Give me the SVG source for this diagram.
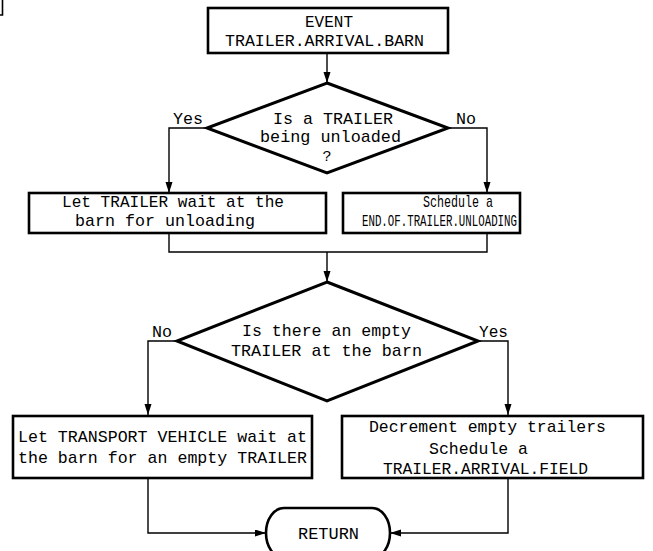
<svg xmlns="http://www.w3.org/2000/svg" width="653" height="551" viewBox="0 0 653 551">
  <style>
    .box { fill: #fff; stroke: #000; stroke-width: 2.6; }
    .dia { fill: #fff; stroke: #000; stroke-width: 3; stroke-linejoin: miter; }
    .line { fill: none; stroke: #000; stroke-width: 1.4; }
    text { font-family: "Liberation Mono", "Courier New", monospace; font-size: 17px; fill: #000; }
    .c { text-anchor: middle; }
  </style>
  <defs>
    <marker id="arrow" markerUnits="userSpaceOnUse" markerWidth="12" markerHeight="8" refX="11" refY="3.5" orient="auto">
      <path d="M0,0 L11,3.5 L0,7 Z" fill="#000"/>
    </marker>
  </defs>

  <rect width="653" height="551" fill="#fff"/>

  <!-- corner mark -->
  <path d="M0,15 H2.5 V0" fill="none" stroke="#000" stroke-width="1.6"/>

  <!-- connectors -->
  <g id="connectors">
    <path class="line" d="M327,53 V83" marker-end="url(#arrow)"/>
    <path class="line" d="M207,128 H169 V193" marker-end="url(#arrow)"/>
    <path class="line" d="M448,128 H487 V193" marker-end="url(#arrow)"/>
    <path class="line" d="M169,233 V252 H487 V233"/>
    <path class="line" d="M327,252 V282" marker-end="url(#arrow)"/>
    <path class="line" d="M177,341 H148 V415" marker-end="url(#arrow)"/>
    <path class="line" d="M478,341 H508 V415" marker-end="url(#arrow)"/>
    <path class="line" d="M148,479 V533 H266" marker-end="url(#arrow)"/>
    <path class="line" d="M508,479 V533 H390" marker-end="url(#arrow)"/>
  </g>

  <g id="event">
    <rect class="box" x="208" y="8" width="240" height="45"/>
    <text x="305" y="27" textLength="48" lengthAdjust="spacingAndGlyphs">EVENT</text>
    <text x="225" y="46" textLength="199" lengthAdjust="spacingAndGlyphs">TRAILER.ARRIVAL.BARN</text>
  </g>

  <g id="decision-unloading">
    <polygon class="dia" points="327,83 448,128 327,173 207,128"/>
    <text x="273" y="124" textLength="120" lengthAdjust="spacingAndGlyphs">Is a TRAILER</text>
    <text x="260" y="142" textLength="141" lengthAdjust="spacingAndGlyphs">being unloaded</text>
    <text class="c" x="327" y="161" style="font-size:15px">?</text>
    <text x="173" y="124" textLength="30" lengthAdjust="spacingAndGlyphs">Yes</text>
    <text x="456" y="124" textLength="20" lengthAdjust="spacingAndGlyphs">No</text>
  </g>

  <g id="trailer-wait">
    <rect class="box" x="29" y="193" width="297" height="40"/>
    <text x="62" y="207" textLength="222" lengthAdjust="spacingAndGlyphs">Let TRAILER wait at the</text>
    <text x="75" y="226" textLength="180" lengthAdjust="spacingAndGlyphs">barn for unloading</text>
  </g>

  <g id="schedule-unloading">
    <rect class="box" x="343" y="193" width="177" height="40"/>
    <text x="423" y="207" textLength="70" lengthAdjust="spacingAndGlyphs">Schedule a</text>
    <text x="362" y="226" textLength="155" lengthAdjust="spacingAndGlyphs">END.OF.TRAILER.UNLOADING</text>
  </g>

  <g id="decision-empty">
    <polygon class="dia" points="327,282 478,341 327,401 177,341"/>
    <text x="242" y="336" textLength="169" lengthAdjust="spacingAndGlyphs">Is there an empty</text>
    <text x="231" y="356" textLength="191" lengthAdjust="spacingAndGlyphs">TRAILER at the barn</text>
    <text x="152" y="337" textLength="20" lengthAdjust="spacingAndGlyphs">No</text>
    <text x="479" y="337" textLength="29" lengthAdjust="spacingAndGlyphs">Yes</text>
  </g>

  <g id="vehicle-wait">
    <rect class="box" x="13" y="416" width="299" height="62"/>
    <text x="18" y="442" textLength="289" lengthAdjust="spacingAndGlyphs">Let TRANSPORT VEHICLE wait at</text>
    <text x="18" y="463" textLength="289" lengthAdjust="spacingAndGlyphs">the barn for an empty TRAILER</text>
  </g>

  <g id="schedule-field">
    <rect class="box" x="342" y="416" width="301" height="62"/>
    <text x="369" y="432" textLength="237" lengthAdjust="spacingAndGlyphs">Decrement empty trailers</text>
    <text x="429" y="454" textLength="99" lengthAdjust="spacingAndGlyphs">Schedule a</text>
    <text x="383" y="474" textLength="205" lengthAdjust="spacingAndGlyphs">TRAILER.ARRIVAL.FIELD</text>
  </g>

  <g id="return">
    <path class="box" d="M284,508 H372 A18,25 0 0 1 372,558 H284 A18,25 0 0 1 284,508 Z"/>
    <text x="298" y="539" textLength="61" lengthAdjust="spacingAndGlyphs">RETURN</text>
  </g>
</svg>
